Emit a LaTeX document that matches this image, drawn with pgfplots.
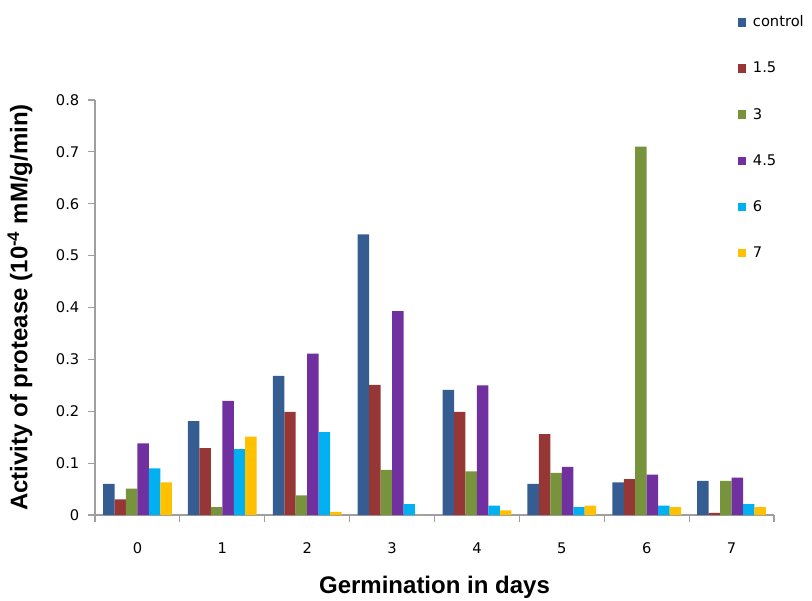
\documentclass[border=0pt]{standalone}
\usepackage{pgfplots}
\pgfplotsset{compat=1.18}
\usepackage{fontspec}
\setmainfont{Liberation Sans}
\newfontfamily\dejavu{DejaVu Sans}
\definecolor{cctrl}{RGB}{54,93,145}
\definecolor{conefive}{RGB}{150,55,53}
\definecolor{cthree}{RGB}{119,147,60}
\definecolor{cfourfive}{RGB}{112,48,160}
\definecolor{csix}{RGB}{0,176,240}
\definecolor{cseven}{RGB}{255,192,0}
\pgfplotsset{sq legend/.style={/pgfplots/legend image code/.code={\fill[##1] (0pt,-3.2pt) rectangle (6pt,3.2pt);}}}
\begin{document}
\begin{tikzpicture}
\begin{axis}[
  at={(0,0)}, anchor=south west,
  scale only axis, width=509.25pt, height=311.25pt,
  ybar=0pt, bar width=0.135,
  xmin=-0.5, xmax=7.5, ymin=0, ymax=0.8,
  axis lines*=left,
  axis line style={draw=gray!75, line width=0.8pt},
  xtick={-0.5,0.5,1.5,2.5,3.5,4.5,5.5,6.5,7.5},
  xticklabels={0,1,2,3,4,5,6,7},
  x tick label as interval,
  ytick={0,0.1,0.2,0.3,0.4,0.5,0.6,0.7,0.8},
  yticklabels={0,0.1,0.2,0.3,0.4,0.5,0.6,0.7,0.8},
  tick align=outside, major tick length=5.25pt,
  tick style={draw=gray!75, line width=0.8pt},
  xticklabel style={font=\dejavu\fontsize{11}{13}\selectfont, anchor=north, yshift=-12pt},
  yticklabel style={font=\dejavu\fontsize{11}{13}\selectfont, anchor=east, xshift=-3pt},
  xlabel={Germination in days},
  ylabel={Activity of protease (10\textsuperscript{-4} mM/g/min)},
  xlabel style={at={([yshift=-58.5pt]axis description cs:0.5,0)}, anchor=base, font=\bfseries\fontsize{18}{21}\selectfont},
  ylabel style={at={([xshift=-56.25pt]axis description cs:0,0.5)}, anchor=center, font=\bfseries\fontsize{18}{21}\selectfont},
  legend cell align=left,
  legend style={draw=none, fill=none, inner sep=0pt, at={(0.947,1.21)}, anchor=north west,
    font=\dejavu\fontsize{11}{13}\selectfont, row sep=21pt,
    /tikz/every odd column/.append style={column sep=3pt}},
]
\addplot[fill=cctrl, draw=none, sq legend] coordinates {(0,0.06) (1,0.181) (2,0.268) (3,0.541) (4,0.241) (5,0.06) (6,0.063) (7,0.066)};
\addplot[fill=conefive, draw=none, sq legend] coordinates {(0,0.03) (1,0.129) (2,0.199) (3,0.251) (4,0.199) (5,0.156) (6,0.069) (7,0.004)};
\addplot[fill=cthree, draw=none, sq legend] coordinates {(0,0.051) (1,0.015) (2,0.038) (3,0.087) (4,0.084) (5,0.081) (6,0.71) (7,0.066)};
\addplot[fill=cfourfive, draw=none, sq legend] coordinates {(0,0.138) (1,0.22) (2,0.311) (3,0.393) (4,0.25) (5,0.093) (6,0.078) (7,0.072)};
\addplot[fill=csix, draw=none, sq legend] coordinates {(0,0.09) (1,0.127) (2,0.16) (3,0.021) (4,0.018) (5,0.015) (6,0.018) (7,0.021)};
\addplot[fill=cseven, draw=none, sq legend] coordinates {(0,0.063) (1,0.151) (2,0.006) (3,0) (4,0.009) (5,0.018) (6,0.015) (7,0.015)};
\legend{control,1.5,3,4.5,6,7}
\end{axis}
\pgfresetboundingbox
\useasboundingbox (-71.25pt,-63.75pt) rectangle (537.75pt,386.25pt);
\end{tikzpicture}
\end{document}
